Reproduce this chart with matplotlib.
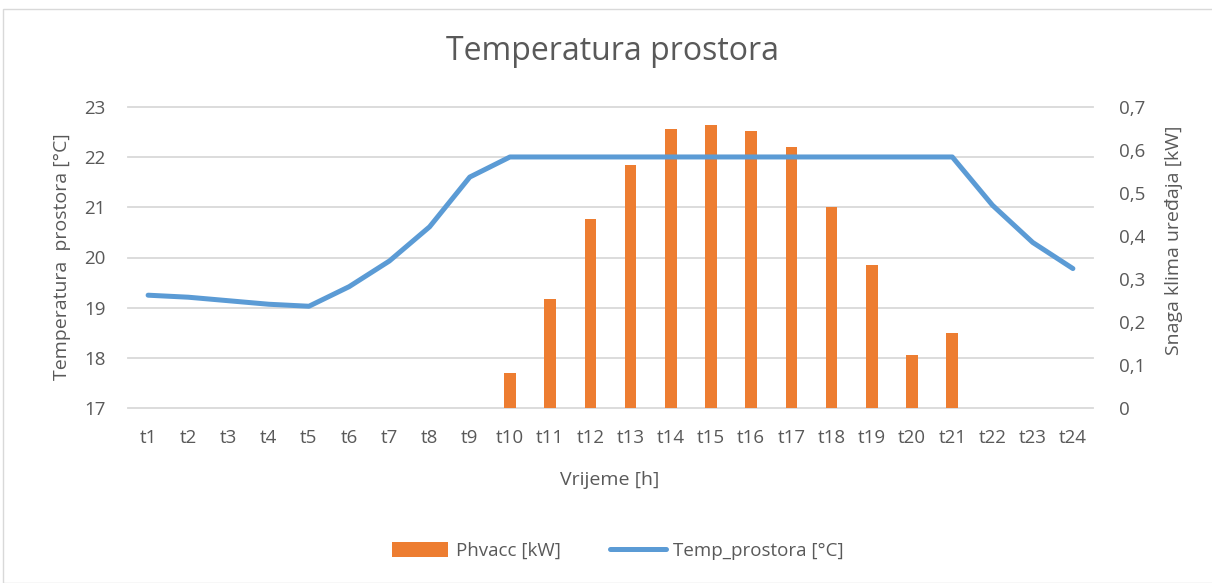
import matplotlib
matplotlib.use("Agg")
import matplotlib.pyplot as plt
from matplotlib.patches import Rectangle
from matplotlib.ticker import FuncFormatter
from matplotlib.transforms import blended_transform_factory

hours = [f"t{i}" for i in range(1, 25)]
temp_prostora = [19.25, 19.21, 19.14, 19.07, 19.03, 19.42, 19.93, 20.61, 21.6, 22.0,
                 22.0, 22.0, 22.0, 22.0, 22.0, 22.0, 22.0, 22.0, 22.0, 22.0,
                 22.0, 21.04, 20.3, 19.78]
phvacc = [0, 0, 0, 0, 0, 0, 0, 0, 0, 0.082,
          0.254, 0.439, 0.565, 0.648, 0.657, 0.643, 0.606, 0.467, 0.333, 0.124,
          0.175, 0, 0, 0]
left_ticks = [17, 18, 19, 20, 21, 22, 23]
right_ticks = [0, 0.1, 0.2, 0.3, 0.4, 0.5, 0.6, 0.7]

plt.rcParams['font.family'] = ['Open Sans', 'DejaVu Sans']
txt = '#595959'
orange = '#ED7D31'
blue = '#5B9BD5'
grid = '#D9D9D9'

W, H = 1212, 583
fig = plt.figure(figsize=(W / 100, H / 100), dpi=100)
fig.patches.append(Rectangle((3 / W, 0), 1.0, 1 - 9 / H, transform=fig.transFigure,
                             fill=False, edgecolor='#D9D9D9', linewidth=1))
ax = fig.add_axes([128 / W, 1 - 408.3 / H, (1093 - 128) / W, (408.3 - 106.7) / H])
ax2 = ax.twinx()
ax.set_zorder(ax2.get_zorder() + 1)
ax.patch.set_visible(False)

x = list(range(len(hours)))
ax.set_xlim(-0.5, len(hours) - 0.5)
ax.set_ylim(17, 23)
ax2.set_ylim(0, 0.7)

# horizontal gridlines follow the left (temperature) axis, drawn beneath the bars
gtrans = blended_transform_factory(ax2.transAxes, ax.transData)
for t in left_ticks:
    ax2.plot([0, 1], [t, t], transform=gtrans, color=grid, linewidth=1.3, zorder=0,
             clip_on=False)

bars = ax2.bar(x, phvacc, width=0.29, color=orange, label='Phvacc [kW]', zorder=2)
line, = ax.plot(x, temp_prostora, color=blue, linewidth=3.6, solid_capstyle='round',
                label='Temp_prostora [°C]')

ax.set_yticks(left_ticks)
ax2.set_yticks(right_ticks)
ax2.yaxis.set_major_formatter(FuncFormatter(lambda v, p: '0' if v == 0 else f"{v:.1f}".replace('.', ',')))

ax.set_xticks(x)
ax.set_xticklabels(hours)
for a in (ax, ax2):
    for s in a.spines.values():
        s.set_visible(False)
    a.tick_params(length=0, labelsize=13.5, colors=txt)
ax.tick_params(axis='x', pad=15)
ax.tick_params(axis='y', pad=16)
ax2.tick_params(axis='y', pad=19)

fig.text(610 / W, 1 - 480 / H, 'Vrijeme [h]', ha='center', va='center',
         fontsize=14, color=txt)
fig.text(62 / W, 1 - 257 / H, 'Temperatura  prostora [°C]', ha='center', va='center',
         rotation=90, fontsize=14, color=txt)
fig.text(1174 / W, 1 - 240 / H, 'Snaga klima uređaja [kW]', ha='center', va='center',
         rotation=90, fontsize=14, color=txt)
fig.text(613 / W, 1 - 52 / H, 'Temperatura prostora', ha='center', va='center',
         fontsize=23, color=txt)

fig.legend([bars, line], ['Phvacc [kW]', 'Temp_prostora [°C]'], loc='center',
           bbox_to_anchor=(618 / W, 1 - 551 / H), ncol=2, frameon=False, fontsize=13.5,
           labelcolor=txt, handlelength=3.0, handleheight=0.8, columnspacing=2.6,
           handletextpad=0.4)

fig.savefig('out.png', dpi=100)
